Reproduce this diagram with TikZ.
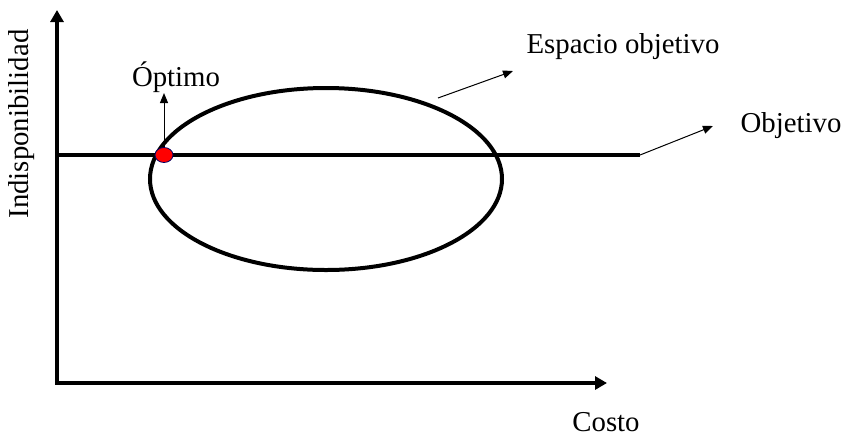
\documentclass[tikz,border=0pt]{standalone}
\usepackage{fontspec}
\setmainfont{Liberation Serif}
\usetikzlibrary{arrows.meta,positioning,shapes.geometric}
\tikzset{
  axisarr/.style={{Triangle[length=6pt,width=6.5pt]}-{Triangle[length=6pt,width=6.5pt]}, line width=2pt},
  thickline/.style={line width=2pt},
  thinarr/.style={-{Triangle[length=5pt,width=4pt]}, line width=0.5pt},
  lbl/.style={inner sep=0pt, font=\fontsize{14.4}{17}\selectfont},
  optdot/.style={ellipse, fill=red, draw=blue!40!black, line width=0.4pt,
    minimum width=9pt, minimum height=7.5pt, inner sep=0pt}
}
\begin{document}
\begin{tikzpicture}[x=0.5pt,y=-0.5pt]
  \useasboundingbox (0,0) rectangle (847,436);
  % ejes
  \coordinate (orig) at (57,383);
  \coordinate (ytop) at (57,10);
  \coordinate (xend) at (607,383);
  \draw[axisarr] (ytop) -- (orig) -- (xend);
  \node[lbl, rotate=90] (ylbl) at (22,124) {Indisponibilidad};
  \node[lbl] (xlbl) at (606,422) {Costo};
  % espacio objetivo
  \draw[thickline] (326,179) ellipse [x radius=176, y radius=91];
  \coordinate (espfrom) at (438,98);
  \coordinate (espto) at (513,71);
  \draw[thinarr] (espfrom) -- (espto);
  \node[lbl] (esplbl) at (623,47) {Espacio objetivo};
  % objetivo
  \coordinate (objl) at (57,155);
  \coordinate (objr) at (640,155);
  \draw[thickline] (objl) -- (objr);
  \coordinate (objtip) at (713,126);
  \draw[thinarr] (objr) -- (objtip);
  \node[lbl] (objlbl) at (791,126) {Objetivo};
  % optimo
  \node[optdot] (opt) at (164,155) {};
  \coordinate (opttip) at (164,93);
  \draw[thinarr] (opt.north) -- (opttip);
  \node[lbl] (optlbl) at (176,77) {Óptimo};
\end{tikzpicture}
\end{document}
